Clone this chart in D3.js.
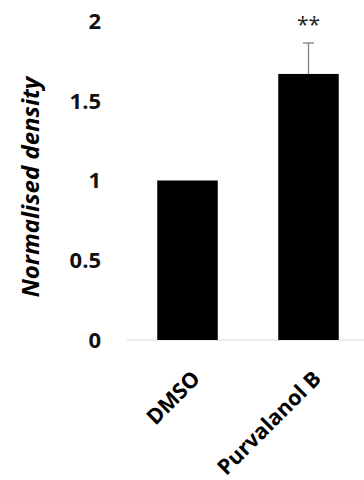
<!DOCTYPE html>
<html>
<head>
<meta charset="utf-8">
<script src="https://cdn.jsdelivr.net/npm/d3@7"></script>
<style>
  html, body { margin: 0; padding: 0; background: #fff; }
  svg { display: block; }
  text { font-family: "Open Sans", "Liberation Sans", sans-serif; }
</style>
</head>
<body>
<svg id="chart" width="364" height="480"></svg>
<script>
// Normalised density per treatment
const categories = ["DMSO", "Purvalanol B"];
const values = [1.0, 1.668];
const errors = [0.0, 0.194];
const significance = ["", "**"];
const yTicks = [0, 0.5, 1, 1.5, 2];
const yTickLabels = ["0", "0.5", "1", "1.5", "2"];
const yTitle = "Normalised density";

const svg = d3.select("#chart");

const y = d3.scaleLinear().domain([0, 2]).range([340, 21]);
const x = d3.scaleBand()
  .domain(categories)
  .range([127, 369])
  .paddingInner(0.5)
  .paddingOuter(0.25);

// baseline
svg.append("line")
  .attr("x1", 127).attr("x2", 364)
  .attr("y1", y(0)).attr("y2", y(0))
  .attr("stroke", "#d9d9d9").attr("stroke-width", 1.2);

// y tick labels
svg.append("g").selectAll("text")
  .data(yTicks)
  .join("text")
  .attr("x", 101)
  .attr("y", d => y(d))
  .attr("dy", "0.36em")
  .attr("text-anchor", "end")
  .attr("font-size", 22)
  .attr("font-weight", "bold")
  .attr("fill", "#111")
  .text((d, i) => yTickLabels[i]);

// y title
svg.append("text")
  .attr("transform", `translate(39, 187) rotate(-90)`)
  .attr("text-anchor", "middle")
  .attr("font-size", 24)
  .attr("font-weight", "bold")
  .attr("font-style", "italic")
  .attr("fill", "#000")
  .text(yTitle);

// bars
svg.append("g").selectAll("rect")
  .data(categories)
  .join("rect")
  .attr("x", d => x(d))
  .attr("width", x.bandwidth())
  .attr("y", (d, i) => y(values[i]))
  .attr("height", (d, i) => y(0) - y(values[i]))
  .attr("fill", "#000");

// error bars (upper only)
const eb = svg.append("g").attr("stroke", "#808080").attr("stroke-width", 1.3);
categories.forEach((c, i) => {
  if (!errors[i]) return;
  const cx = x(c) + x.bandwidth() / 2;
  eb.append("line")
    .attr("x1", cx).attr("x2", cx)
    .attr("y1", y(values[i])).attr("y2", y(values[i] + errors[i]));
  eb.append("line")
    .attr("x1", cx - 5.5).attr("x2", cx + 5.5)
    .attr("y1", y(values[i] + errors[i])).attr("y2", y(values[i] + errors[i]));
});

// significance markers
svg.append("g").selectAll("text")
  .data(categories)
  .join("text")
  .attr("x", d => x(d) + x.bandwidth() / 2)
  .attr("y", 32)
  .attr("text-anchor", "middle")
  .attr("font-size", 21)
  .attr("fill", "#222")
  .text((d, i) => significance[i]);

// category labels
svg.append("g").selectAll("text")
  .data(categories)
  .join("text")
  .attr("transform", d => `translate(${x(d) + x.bandwidth() / 2 + 3}, 369) rotate(-45)`)
  .attr("dy", "0.72em")
  .attr("text-anchor", "end")
  .attr("font-size", 21.5)
  .attr("font-weight", "bold")
  .attr("fill", "#000")
  .text(d => d);
</script>
</body>
</html>
